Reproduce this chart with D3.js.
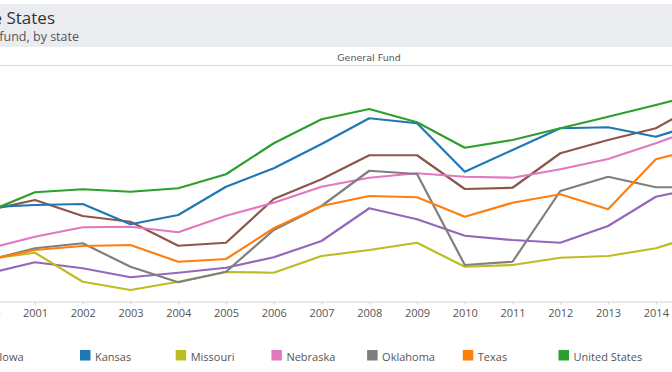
<!DOCTYPE html>
<html>
<head>
<meta charset="utf-8">
<script src="https://cdn.jsdelivr.net/npm/d3@7"></script>
<style>
  body { margin: 0; background: #fff; }
  svg { display: block; }
</style>
</head>
<body>
<div id="chart"></div>
<script>
  // years on the x axis
  let years = [2000,2001,2002,2003,2004,2005,2006,2007,2008,2009,2010,2011,2012,2013,2014,2015];

  // legend order (alphabetical, as in the source)
  let states = ["Colorado","Iowa","Kansas","Missouri","Nebraska","Oklahoma","Texas","United States"];
  let colors = ["#9467bd","#8c564b","#1f77b4","#bcbd22","#e377c2","#7f7f7f","#ff7f0e","#2ca02c"];

  // general fund index
  let colorado     = [14.5,19.1,16.7,13.1,14.9,16.9,21.1,27.6,40.7,36.3,29.7,28.0,26.9,33.6,45.3,49.3];
  let iowa         = [39.8,44.0,37.6,35.3,25.7,26.9,44.4,52.3,61.9,61.9,48.4,48.9,62.7,68.0,72.7,83.2];
  let kansas       = [41.1,42.0,42.4,34.3,38.0,49.3,56.7,66.4,76.7,74.7,55.3,64.0,72.7,73.1,69.3,75.2];
  let missouri     = [20.4,22.9,11.3, 8.0,11.3,15.2,14.9,21.6,24.0,26.9,17.3,18.0,20.9,21.6,24.7,30.6];
  let nebraska     = [24.4,29.3,33.1,33.3,31.1,37.7,42.9,49.3,52.9,54.7,53.3,52.9,56.3,60.4,66.7,73.7];
  let oklahoma     = [19.8,24.7,26.7,17.3,11.1,15.3,32.0,41.6,55.7,54.4,18.0,19.3,47.6,53.3,49.1,49.1];
  let texas        = [20.0,24.0,25.6,26.0,19.3,20.4,32.7,41.6,45.6,45.1,37.3,42.9,46.3,40.3,60.3,65.3];
  let unitedStates = [39.2,47.1,48.3,47.3,48.7,54.3,66.7,76.3,80.4,75.1,64.9,68.0,72.7,77.3,82.0,87.0];

  let seriesValues = [colorado,iowa,kansas,missouri,nebraska,oklahoma,texas,unitedStates];

  let width = 672;
  let height = 372;

  let svg = d3.select("#chart")
              .append("svg")
              .attr("width", width)
              .attr("height", height);

  // header band (title is cut off on the left in the source)
  svg.append("rect")
     .attr("x", 0).attr("y", 4)
     .attr("width", width).attr("height", 43)
     .style("fill", "#ebecef");

  svg.append("text")
     .text("General Fund Spending in the States")
     .attr("x", 55).attr("y", 24)
     .attr("text-anchor", "end")
     .style("font-family", "Open Sans")
     .style("font-size", "17px")
     .style("fill", "#333");

  svg.append("text")
     .text("Spending from the general fund, by state")
     .attr("x", 79).attr("y", 41)
     .attr("text-anchor", "end")
     .style("font-family", "Open Sans")
     .style("font-size", "12.5px")
     .style("fill", "#555");

  svg.append("text")
     .text("General Fund")
     .attr("x", 369).attr("y", 61)
     .attr("text-anchor", "middle")
     .style("font-family", "DejaVu Sans")
     .style("font-size", "9.5px")
     .style("fill", "#555");

  svg.append("line")
     .attr("x1", 0).attr("x2", width)
     .attr("y1", 65.5).attr("y2", 65.5)
     .style("stroke", "#d6d6d6");

  // scales
  let x = d3.scaleLinear().domain([2000, 2015]).range([-12.8, 703.6]);
  let y = d3.scaleLinear().domain([0, 100]).range([310, 60]);

  // x axis
  let xAxis = d3.axisBottom(x)
                .tickValues(years)
                .tickFormat(d3.format("d"))
                .tickSize(3)
                .tickPadding(5);

  let ax = svg.append("g")
              .attr("transform", "translate(0,301.5)")
              .call(xAxis);
  ax.select(".domain").style("stroke", "#d4d4d4");
  ax.selectAll(".tick line").style("stroke", "#d4d4d4");
  ax.selectAll(".tick text")
    .style("font-family", "Open Sans")
    .style("font-size", "11px")
    .style("fill", "#555");

  // lines
  let lineFunction = d3.line()
                       .x(function(d, i){ return x(years[i]); })
                       .y(function(d){ return y(d); })
                       .curve(d3.curveLinear);

  svg.append("g")
     .selectAll("path")
     .data(seriesValues)
     .enter()
     .append("path")
     .attr("d", function(d){ return lineFunction(d); })
     .style("fill", "none")
     .style("stroke", function(d, i){ return colors[i]; })
     .style("stroke-width", 2.2)
     .style("stroke-linejoin", "round");

  // legend
  let legend = svg.append("g")
                  .selectAll("g")
                  .data(states)
                  .enter()
                  .append("g")
                  .attr("transform", function(d, i){ return "translate(" + (-111.4 + i * 95.7) + ",350)"; });

  legend.append("rect")
        .attr("width", 10.5).attr("height", 10.5)
        .style("fill", function(d, i){ return colors[i]; });

  legend.append("text")
        .text(function(d){ return d; })
        .attr("x", 15).attr("y", 10.5)
        .style("font-family", "Open Sans")
        .style("font-size", "11px")
        .style("fill", "#555");
</script>
</body>
</html>
